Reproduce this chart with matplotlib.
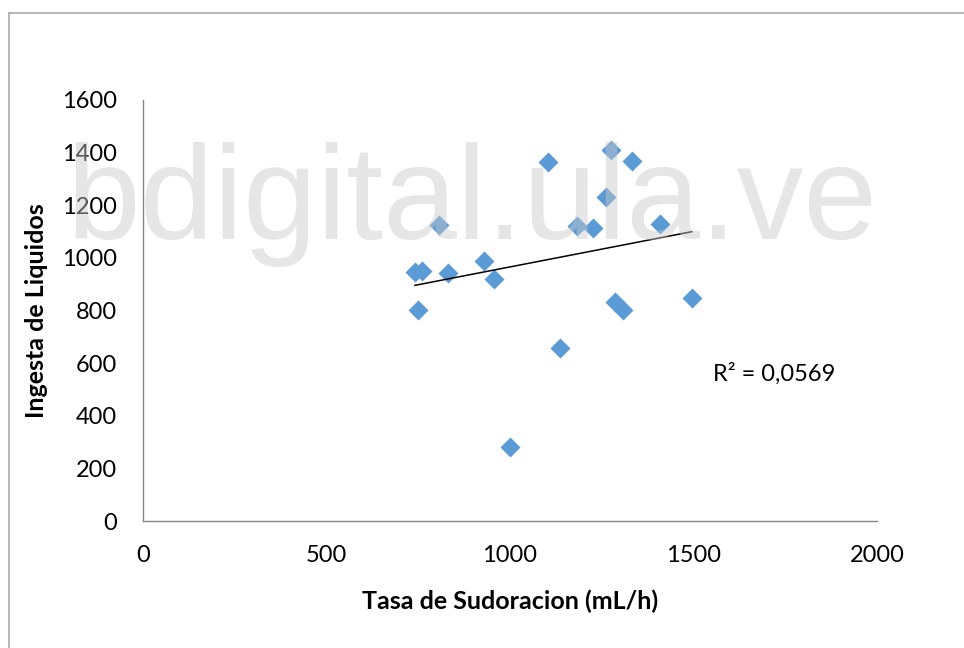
import matplotlib
matplotlib.use("Agg")
import matplotlib.pyplot as plt
from matplotlib.lines import Line2D
import numpy as np

# sweat rate (mL/h) vs fluid intake (mL)
tasa_sudoracion = [741, 759, 807, 830, 928, 957, 750, 1103, 1000, 1137,
                   1182, 1227, 1261, 1274, 1332, 1409, 1286, 1309, 1495]
ingesta_liquidos = [946, 950, 1125, 941, 989, 920, 802, 1363, 280, 656,
                    1121, 1115, 1233, 1410, 1369, 1128, 831, 802, 849]
r2_label = "R² = 0,0569"
x_ticks = [0, 500, 1000, 1500, 2000]
y_ticks = [0, 200, 400, 600, 800, 1000, 1200, 1400, 1600]

W, H = 964, 648
fig = plt.figure(figsize=(W / 100, H / 100), dpi=100)
fig.patch.set_facecolor("white")

ax = fig.add_axes([143 / W, 1 - 521 / H, 734 / W, 421 / H])
ax.set_facecolor("none")

font = "Lato"
x = np.array(tasa_sudoracion)
y = np.array(ingesta_liquidos)

ax.scatter(x, y, marker="D", s=10.2 ** 2, color="#5B9BD5", linewidths=0, zorder=3)

# linear trendline over the data range
m, b = np.polyfit(x, y, 1)
xs = np.array([x.min(), x.max()])
ax.plot(xs, m * xs + b, color="black", lw=1.1, zorder=4)

ax.text(0.777, 0.349, r2_label, transform=ax.transAxes, fontsize=17,
        family=font, va="center", ha="left")

ax.set_xlim(0, 2000)
ax.set_ylim(0, 1600)
ax.set_xticks(x_ticks)
ax.set_yticks(y_ticks)
ax.set_xticklabels([str(t) for t in x_ticks], fontsize=17, family=font)
ax.set_yticklabels([str(t) for t in y_ticks], fontsize=17, family=font)
ax.tick_params(axis="both", length=0)
ax.tick_params(axis="y", pad=19)
ax.tick_params(axis="x", pad=17)

for side in ["top", "right"]:
    ax.spines[side].set_visible(False)
for side in ["left", "bottom"]:
    ax.spines[side].set_color("#868686")
    ax.spines[side].set_linewidth(1.0)

ax.set_xlabel("Tasa de Sudoracion (mL/h)", fontsize=18, family=font,
              fontweight="bold", labelpad=17)
ax.set_ylabel("Ingesta de Liquidos", fontsize=18, family=font,
              fontweight="bold", labelpad=10)

# chart area border (only top and left edges fall inside the image)
fig.add_artist(Line2D([8.5 / W, 8.5 / W], [0, 1 - 12.5 / H], color="#ababab",
                      lw=1.2, transform=fig.transFigure))
fig.add_artist(Line2D([8.5 / W, 1], [1 - 12.5 / H, 1 - 12.5 / H], color="#ababab",
                      lw=1.2, transform=fig.transFigure))

# watermark drawn on top
fig.text(67 / W, 1 - 239 / H, "bdigital.ula.ve", fontsize=95.5,
         family="Liberation Sans", color="#c8c8c8", alpha=0.45,
         ha="left", va="baseline", zorder=10)

fig.savefig("out.png", dpi=100)
